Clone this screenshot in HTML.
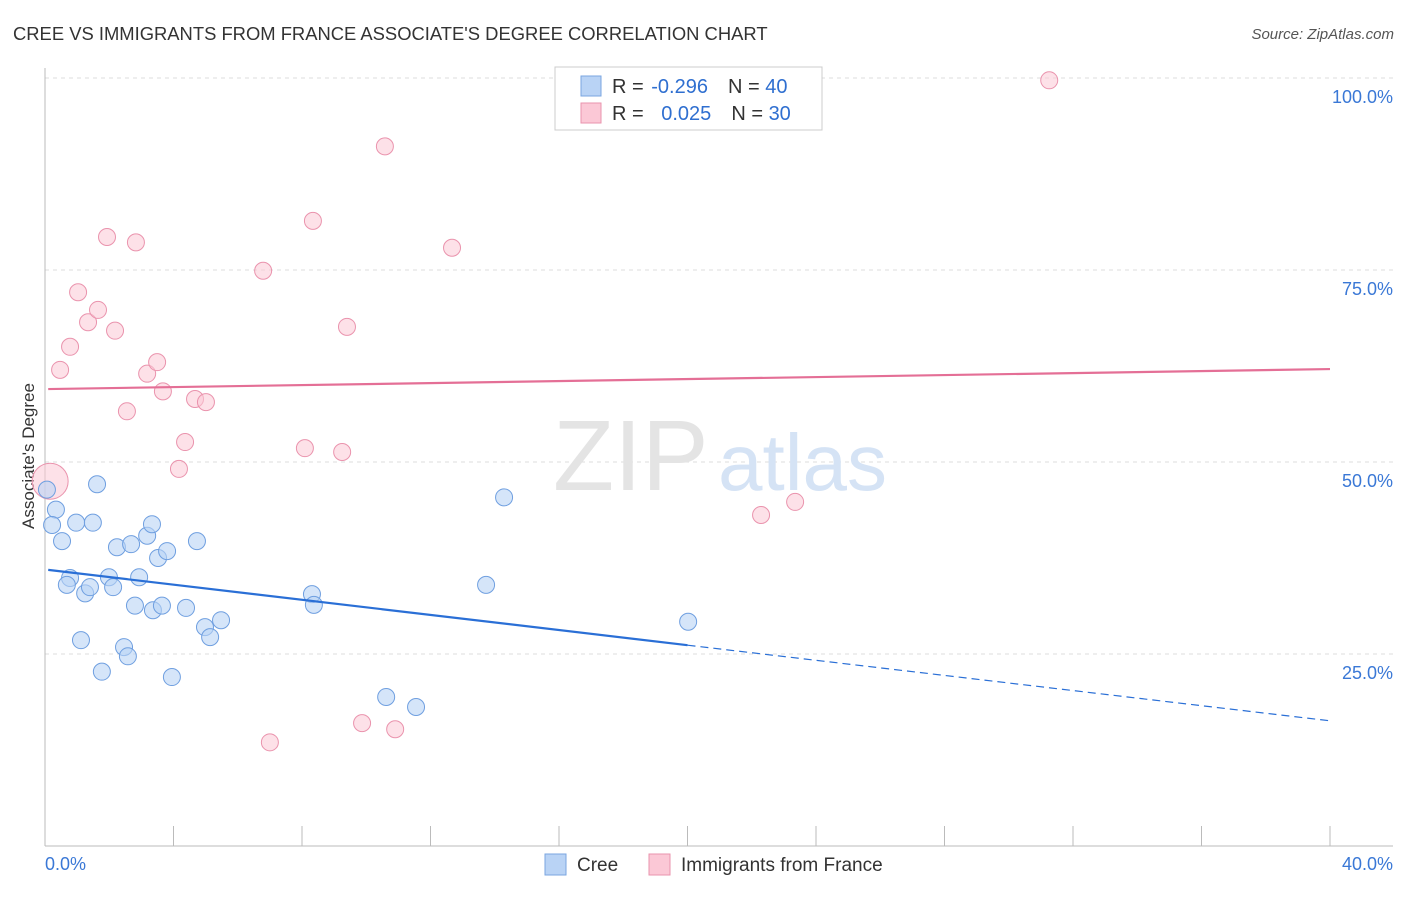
<!DOCTYPE html>
<html><head><meta charset="utf-8"><style>
body{margin:0;background:#fff;font-family:"Liberation Sans",sans-serif;}
svg text{font-family:"Liberation Sans",sans-serif;}
</style></head><body>
<svg id="chart" width="1406" height="892">
<text x="13" y="40" font-size="18.4" fill="#333">CREE VS IMMIGRANTS FROM FRANCE ASSOCIATE'S DEGREE CORRELATION CHART</text>
<text x="1394" y="39" font-size="15" fill="#555" text-anchor="end" font-style="italic">Source: ZipAtlas.com</text>
<text x="34" y="456" font-size="17" fill="#333" text-anchor="middle" transform="rotate(-90 34 456)">Associate's Degree</text>
<g id="grid"></g>
<text x="553" y="490" font-size="100" fill="#e4e4e4" font-family="Liberation Serif">ZIP</text>
<text x="718" y="490" font-size="80" fill="#d5e3f5">atlas</text>
<g id="marks"></g>
<g>
<rect x="555" y="67" width="267" height="63" fill="#fff" stroke="#ccc"/>
<rect x="581" y="76" width="20" height="20" fill="#b9d3f5" stroke="#7aa6e0"/>
<rect x="581" y="103" width="20" height="20" fill="#fbc8d6" stroke="#ea93ad"/>
<text x="612" y="93" font-size="20" fill="#333">R = <tspan dx="2" fill="#2f6fd0">-0.296</tspan><tspan dx="20">N = </tspan><tspan fill="#2f6fd0">40</tspan></text>
<text x="612" y="120" font-size="20" fill="#333">R = <tspan dx="12" fill="#2f6fd0">0.025</tspan><tspan dx="20">N = </tspan><tspan fill="#2f6fd0">30</tspan></text>
</g>
<g>
<rect x="545" y="854" width="21" height="21" fill="#b9d3f5" stroke="#7aa6e0"/>
<text x="577" y="871" font-size="19" fill="#333">Cree</text>
<rect x="649" y="854" width="21" height="21" fill="#fbc8d6" stroke="#ea93ad"/>
<text x="681" y="871" font-size="19" fill="#333">Immigrants from France</text>
</g>
</svg>
<script>
const yTicks=[25,50,75,100];
const yTickLabels=["25.0%","50.0%","75.0%","100.0%"];
const xTickLabels=["0.0%","40.0%"];
const creeX=[0.06,0.34,0.22,0.53,0.97,1.49,1.62,0.78,0.68,1.25,1.40,1.12,1.77,1.99,2.12,2.24,2.68,2.46,2.58,2.80,2.93,3.18,3.33,3.52,3.80,3.36,3.64,3.95,4.39,4.73,4.98,5.14,5.48,8.31,8.37,10.62,11.55,13.73,14.29,20.02];
const creeY=[46.4,43.8,41.8,39.7,42.1,42.1,47.1,34.9,34.0,32.9,33.7,26.8,22.7,35.0,33.7,38.9,39.3,25.9,24.7,31.3,35.0,40.4,41.9,37.5,38.4,30.7,31.3,22.0,31.0,39.7,28.5,27.2,29.4,32.8,31.4,19.4,18.1,34.0,45.4,29.2];
const franceX=[0.16,0.47,0.78,1.03,1.34,1.65,1.93,2.18,2.55,2.83,3.18,3.49,3.67,4.17,4.36,4.67,5.01,6.79,7.00,8.09,8.34,9.25,9.40,9.87,10.58,10.90,12.67,22.29,23.35,31.26];
const franceY=[47.5,62.0,65.0,72.1,68.2,69.8,79.3,67.1,56.6,78.6,61.5,63.0,59.2,49.1,52.6,58.2,57.8,74.9,13.5,51.8,81.4,51.3,67.6,16.0,91.1,15.2,77.9,43.1,44.8,99.7];
const creeTrend=[36.0,16.3];
const franceTrend=[59.5,62.1];
const NS="http://www.w3.org/2000/svg";
const sx=v=>45+v/40*1285;
const sy=v=>846-v*7.68;
function mk(tag,attrs,parent){const e=document.createElementNS(NS,tag);for(const k in attrs)e.setAttribute(k,attrs[k]);parent.appendChild(e);return e;}
const grid=document.getElementById('grid'),marks=document.getElementById('marks');
yTicks.forEach((t,i)=>{
 const l=mk('line',{x1:45,x2:1393,y1:sy(t),y2:sy(t),stroke:'#ddd','stroke-dasharray':'4,4'},grid);
 
 
 const tx=mk('text',{x:1393,y:sy(t)+25,'font-size':18,fill:'#3a78d6','text-anchor':'end'},grid);
 tx.textContent=yTickLabels[i];
 
 
});
const ax=mk('line',{x1:45,x2:1393,y1:846,y2:846,stroke:'#bbb'},grid);


const ay=mk('line',{x1:45,x2:45,y1:68,y2:846,stroke:'#bbb'},grid);


for(let i=0;i<=10;i++){
 const t=mk('line',{x1:sx(i*4),x2:sx(i*4),y1:826,y2:846,stroke:'#bbb'},grid);
 
 
}
[[0,'start',45],[40,'end',1393]].forEach((d,i)=>{
 const tx=mk('text',{x:d[2],y:870,'font-size':18,fill:'#3a78d6','text-anchor':d[1]},grid);
 tx.textContent=xTickLabels[i];
 
 
});
franceX.forEach((x,i)=>{
 const c=mk('circle',{cx:sx(x),cy:sy(franceY[i]),r:i===0?18:8.5,fill:'#fbc8d6','fill-opacity':0.55,stroke:'#ea93ad','stroke-width':1},marks);
 
 
});
creeX.forEach((x,i)=>{
 const c=mk('circle',{cx:sx(x),cy:sy(creeY[i]),r:8.5,fill:'#b9d3f5','fill-opacity':0.6,stroke:'#6f9fe0','stroke-width':1},marks);
 
 
});
const pt=mk('line',{x1:sx(0.1),x2:sx(40),y1:sy(franceTrend[0]),y2:sy(franceTrend[1]),stroke:'#e46f96','stroke-width':2.2},marks);


const bAt=x=>creeTrend[0]+(creeTrend[1]-creeTrend[0])*x/40;
const bt=mk('line',{x1:sx(0.1),x2:sx(20),y1:sy(bAt(0.1)),y2:sy(bAt(20)),stroke:'#2a6fd6','stroke-width':2.2},marks);


const bd=mk('line',{x1:sx(20),x2:sx(40),y1:sy(bAt(20)),y2:sy(bAt(40)),stroke:'#2a6fd6','stroke-width':1.2,'stroke-dasharray':'8,5'},marks);


</script>
</body></html>
